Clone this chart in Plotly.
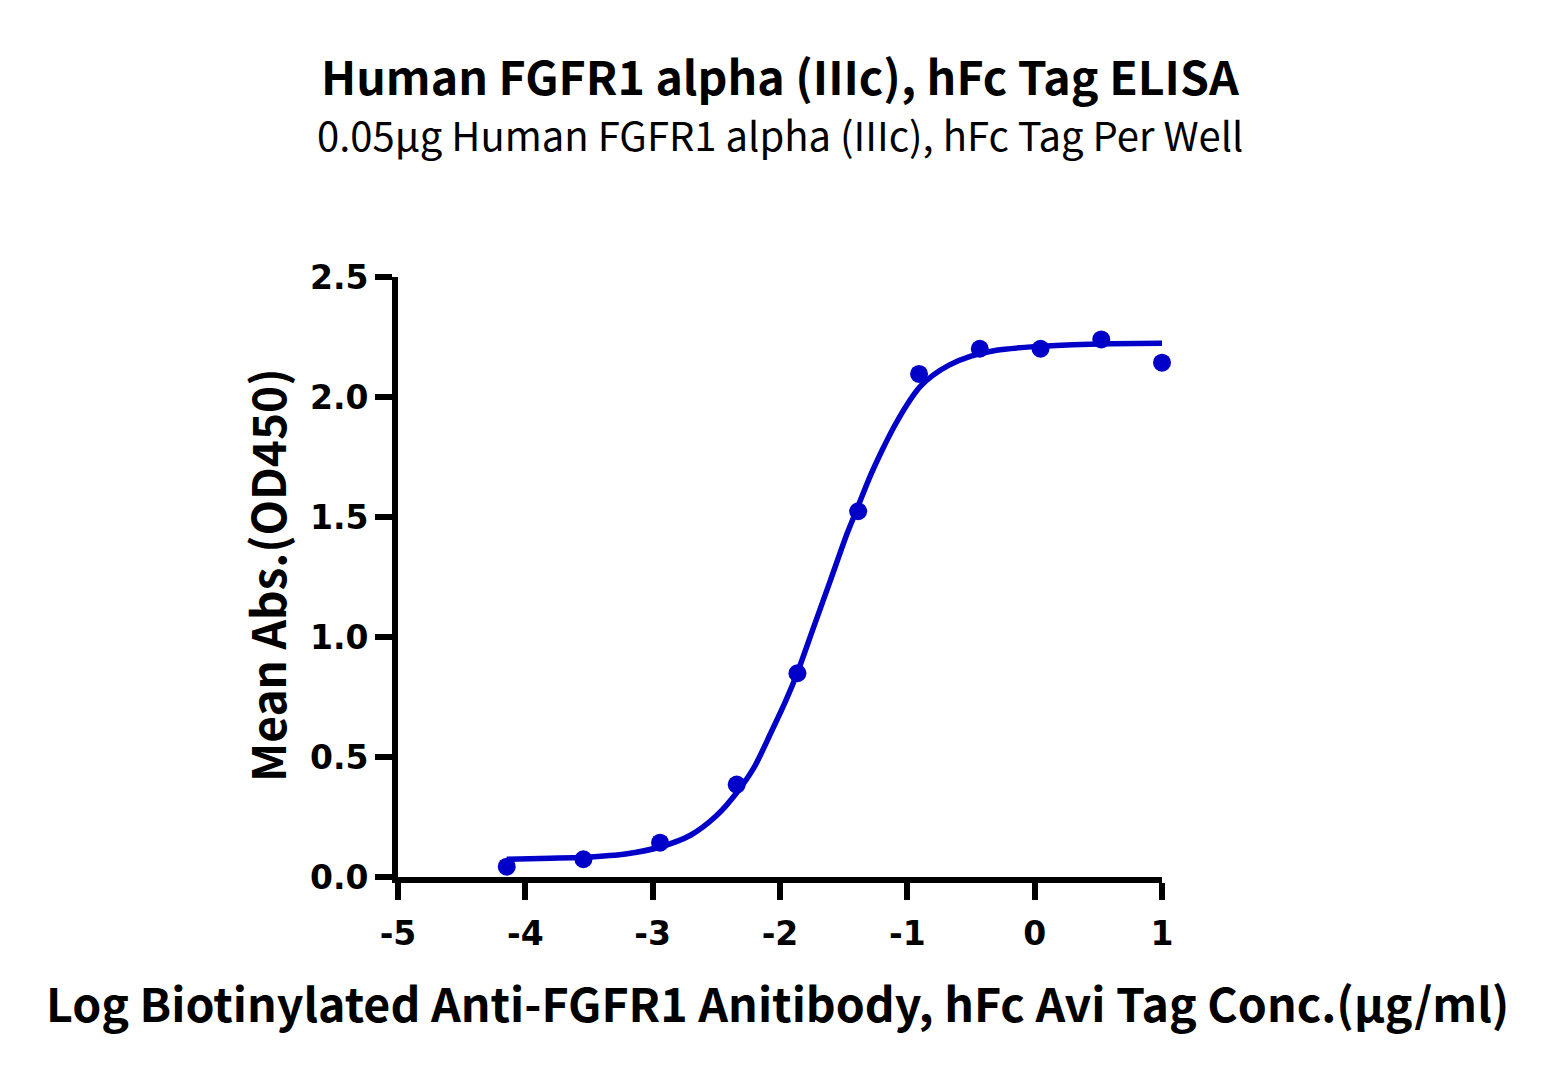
import plotly.graph_objects as go

# measured points: log conc vs mean OD450
log_conc = [-4.146, -3.544, -2.942, -2.340, -1.863, -1.386, -0.908, -0.431, 0.046, 0.523, 1.000]
mean_abs = [0.043, 0.074, 0.143, 0.385, 0.849, 1.524, 2.096, 2.201, 2.201, 2.240, 2.143]

# fitted curve
fit_x = [-4.146, -3.8, -3.544, -3.2, -2.942, -2.7, -2.5, -2.343, -2.2, -2.075, -1.95,
         -1.866, -1.735, -1.604, -1.473, -1.39, -1.3, -1.197, -1.1, -1.0, -0.9, -0.8,
         -0.672, -0.5, -0.3, 0.0, 0.3, 0.6, 1.0]
fit_y = [0.074, 0.078, 0.082, 0.097, 0.125, 0.175, 0.255, 0.349, 0.46, 0.597, 0.74,
         0.848, 1.042, 1.236, 1.431, 1.54, 1.66, 1.779, 1.88, 1.97, 2.043, 2.09,
         2.133, 2.17, 2.195, 2.21, 2.218, 2.222, 2.224]

x_ticks = [-5, -4, -3, -2, -1, 0, 1]
y_ticks = [0.0, 0.5, 1.0, 1.5, 2.0, 2.5]

BLUE = "#0000C8"
TITLE_FONT = "Noto Sans CJK SC"
TICK_FONT = "DejaVu Sans"

fig = go.Figure()

fig.add_trace(go.Scatter(
    x=fit_x, y=fit_y,
    mode="lines",
    line=dict(color=BLUE, width=5.5, shape="spline", smoothing=0.8),
    showlegend=False,
    cliponaxis=False,
))

fig.add_trace(go.Scatter(
    x=log_conc, y=mean_abs,
    mode="markers",
    marker=dict(color=BLUE, size=18, line=dict(width=0)),
    showlegend=False,
    cliponaxis=False,
))

axis_common = dict(
    showgrid=False,
    zeroline=False,
    showline=True,
    linecolor="black",
    linewidth=6,
    ticks="outside",
    ticklen=17,
    tickwidth=6,
    tickcolor="black",
    tickfont=dict(family=TICK_FONT, size=33, color="black", weight="bold"),
)

# page body adds ~8px offset, so margins are shifted to compensate
fig.update_layout(
    width=1557,
    height=1077,
    margin=dict(l=390, r=403, t=269, b=208, pad=0),
    plot_bgcolor="white",
    paper_bgcolor="white",
    xaxis=dict(range=[-5, 1], tickvals=x_ticks, ticktext=[str(v) for v in x_ticks],
               ticklabelstandoff=5, **axis_common),
    yaxis=dict(range=[0, 2.5], tickvals=y_ticks, ticktext=[f"{v:.1f}" for v in y_ticks], **axis_common),
    annotations=[
        dict(text="<b>Human FGFR1 alpha (IIIc), hFc Tag ELISA</b>", xref="paper", yref="paper",
             x=0.5004, y=1.338, showarrow=False, xanchor="center", yanchor="middle",
             font=dict(family=TITLE_FONT, size=46.5, color="black")),
        dict(text="0.05μg Human FGFR1 alpha (IIIc), hFc Tag Per Well", xref="paper", yref="paper",
             x=0.5004, y=1.238, showarrow=False, xanchor="center", yanchor="middle",
             font=dict(family=TITLE_FONT, size=40, color="black")),
        dict(text="<b>Log Biotinylated Anti-FGFR1 Anitibody, hFc Avi Tag Conc.(μg/ml)</b>",
             xref="paper", yref="paper", x=0.497, y=-0.207, showarrow=False,
             xanchor="center", yanchor="middle",
             font=dict(family=TITLE_FONT, size=46.5, color="black")),
        dict(text="<b>Mean Abs.(OD450)</b>", xref="paper", yref="paper",
             x=-0.1737, y=0.504, showarrow=False, textangle=-90,
             xanchor="center", yanchor="middle",
             font=dict(family=TITLE_FONT, size=46, color="black")),
    ],
)

fig.write_html("out.html")
